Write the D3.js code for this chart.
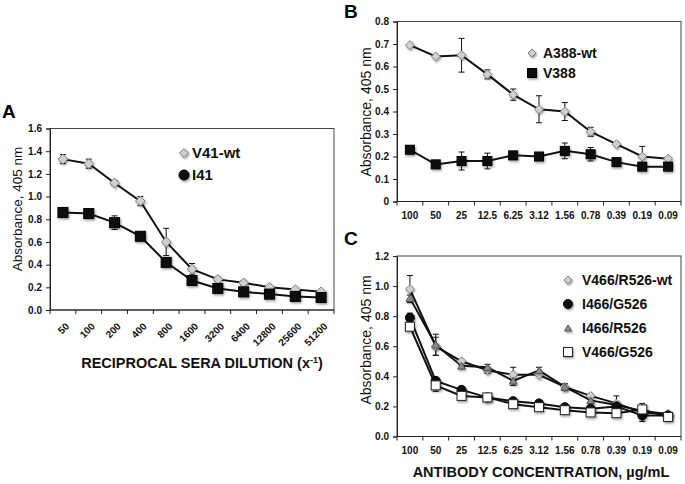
<!DOCTYPE html>
<html>
<head>
    <script src="https://d3js.org/d3.v7.min.js"></script>
    <style>
        body { margin: 0; background: white; }
        text { font-family: "Liberation Sans", Arial, sans-serif; }
        .tick-label { font-size: 10px; font-weight: bold; fill: #111; }
        .ylab { fill: #111; }
        .legend { font-weight: bold; fill: #111; }
        .xtitle { font-size: 14.5px; font-weight: bold; fill: #111; }
        .letter { font-size: 19px; font-weight: bold; fill: #000; }
    </style>
</head>
<body>
<script>
    // ---- data ----
    const dilutionA = ['50', '100', '200', '400', '800', '1600', '3200', '6400', '12800', '25600', '51200'];
    const v41wt = [1.33, 1.29, 1.12, 0.96, 0.60, 0.36, 0.27, 0.24, 0.20, 0.18, 0.16];
    const v41wtErr = [0.04, 0.04, 0.02, 0.04, 0.12, 0.05, 0.02, 0.02, 0.01, 0.01, 0.01];
    const i41 = [0.86, 0.85, 0.77, 0.65, 0.42, 0.26, 0.19, 0.16, 0.14, 0.12, 0.11];
    const i41Err = [0.02, 0.02, 0.06, 0.02, 0.02, 0.02, 0.02, 0.01, 0.01, 0.01, 0.01];
    const yTicksA = [0, 0.2, 0.4, 0.6, 0.8, 1.0, 1.2, 1.4, 1.6];

    const concentration = ['100', '50', '25', '12.5', '6.25', '3.12', '1.56', '0.78', '0.39', '0.19', '0.09'];
    const a388wt = [0.695, 0.645, 0.65, 0.565, 0.475, 0.41, 0.40, 0.31, 0.255, 0.20, 0.19];
    const a388wtErr = [0.005, 0.005, 0.075, 0.02, 0.025, 0.06, 0.04, 0.02, 0.01, 0.045, 0.01];
    const v388 = [0.23, 0.165, 0.18, 0.18, 0.205, 0.20, 0.225, 0.21, 0.175, 0.155, 0.155];
    const v388Err = [0.01, 0.01, 0.04, 0.035, 0.01, 0.01, 0.035, 0.03, 0.01, 0.01, 0.01];
    const yTicksB = [0, 0.1, 0.2, 0.3, 0.4, 0.5, 0.6, 0.7, 0.8];

    const v466r526wt = [0.98, 0.60, 0.50, 0.44, 0.41, 0.41, 0.33, 0.27, 0.22, 0.16, 0.15];
    const v466r526wtErr = [0.09, 0.06, 0.01, 0.02, 0.05, 0.01, 0.02, 0.01, 0.05, 0.06, 0.01];
    const i466g526 = [0.79, 0.37, 0.31, 0.26, 0.235, 0.22, 0.195, 0.185, 0.20, 0.14, 0.14];
    const i466g526Err = [0.03, 0.02, 0.02, 0.01, 0.01, 0.01, 0.01, 0.01, 0.01, 0.01, 0.01];
    const i466r526 = [0.92, 0.61, 0.47, 0.46, 0.37, 0.44, 0.33, 0.24, 0.21, 0.17, 0.15];
    const i466r526Err = [0.02, 0.07, 0.02, 0.02, 0.03, 0.02, 0.02, 0.02, 0.02, 0.02, 0.01];
    const v466g526 = [0.73, 0.34, 0.27, 0.26, 0.215, 0.195, 0.175, 0.16, 0.155, 0.18, 0.13];
    const v466g526Err = [0.02, 0.04, 0.01, 0.01, 0.01, 0.01, 0.01, 0.01, 0.01, 0.01, 0.01];
    const yTicksC = [0, 0.2, 0.4, 0.6, 0.8, 1.0, 1.2];

    const svg = d3.select('body').append('svg')
        .attr('width', 685)
        .attr('height', 484);

    // soft drop shadow like the Excel markers
    svg.append('defs').append('filter')
        .attr('id', 'shadow')
        .attr('x', '-50%').attr('y', '-50%').attr('width', '200%').attr('height', '200%')
        .append('feDropShadow')
        .attr('dx', 1).attr('dy', 1.5).attr('stdDeviation', 1)
        .attr('flood-color', '#000').attr('flood-opacity', 0.4);

    const markerStyle = {
        diamond: { fill: '#d0d0d0', stroke: '#808080' },
        square: { fill: '#111', stroke: '#000' },
        circle: { fill: '#111', stroke: '#000' },
        triangle: { fill: '#8c8c8c', stroke: '#555' },
        opensquare: { fill: '#fff', stroke: '#222' }
    };

    // size = full width of the marker in px
    function drawMarker(g, type, size, x, y) {
        const m = markerStyle[type];
        let el;
        if (type === 'square' || type === 'opensquare') {
            el = g.append('rect')
                .attr('x', x - size / 2).attr('y', y - size / 2)
                .attr('width', size).attr('height', size);
        } else if (type === 'circle') {
            el = g.append('circle').attr('cx', x).attr('cy', y).attr('r', size / 2);
        } else if (type === 'diamond') {
            el = g.append('path')
                .attr('d', d3.symbol().type(d3.symbolDiamond2).size(size * size / 2)())
                .attr('transform', `translate(${x},${y})`);
        } else {
            el = g.append('path')
                .attr('d', d3.symbol().type(d3.symbolTriangle2).size(size * size * 0.43)())
                .attr('transform', `translate(${x},${y + 1})`);
        }
        el.attr('fill', m.fill).attr('stroke', m.stroke).attr('stroke-width', 1)
            .attr('filter', 'url(#shadow)');
    }

    function drawPanel(p) {
        const x = d3.scaleBand().domain(p.categories).range([p.left, p.right]);
        const y = d3.scaleLinear().domain([0, p.yMax]).range([p.bottom, p.top]);
        const g = svg.append('g');

        // frame
        g.append('rect')
            .attr('x', p.left).attr('y', p.top)
            .attr('width', p.right - p.left).attr('height', p.bottom - p.top)
            .attr('fill', 'none').attr('stroke', '#444').attr('stroke-width', 1);

        // y axis
        const yAxis = g.append('g')
            .attr('transform', `translate(${p.left},0)`)
            .call(d3.axisLeft(y).tickValues(p.yTicks).tickFormat(p.yFormat).tickSize(4).tickPadding(4));
        yAxis.select('.domain').attr('stroke', '#222');
        yAxis.selectAll('.tick line').attr('stroke', '#222');
        yAxis.selectAll('.tick text').attr('class', 'tick-label').attr('font-family', null).attr('font-size', null);

        // x axis: ticks between categories
        const edges = p.categories.map(c => x(c)).concat([p.right]);
        g.append('line')
            .attr('x1', p.left).attr('x2', p.right)
            .attr('y1', p.bottom).attr('y2', p.bottom)
            .attr('stroke', '#222');
        g.selectAll('.xtick').data(edges).enter().append('line')
            .attr('x1', d => d).attr('x2', d => d)
            .attr('y1', p.bottom).attr('y2', p.bottom + 4)
            .attr('stroke', '#222');

        const cx = c => x(c) + x.bandwidth() / 2;
        if (p.rotate) {
            g.selectAll('.xl').data(p.categories).enter().append('text')
                .attr('class', 'tick-label')
                .attr('text-anchor', 'end')
                .attr('transform', c => `translate(${cx(c) + 7},${p.bottom + 17}) rotate(-45)`)
                .text(c => c);
        } else {
            g.selectAll('.xl').data(p.categories).enter().append('text')
                .attr('class', 'tick-label')
                .attr('text-anchor', 'middle')
                .attr('x', cx).attr('y', p.bottom + 17)
                .text(c => c);
        }

        // y label
        g.append('text')
            .attr('class', 'ylab')
            .attr('text-anchor', 'middle')
            .style('font-size', p.yLabelFont + 'px')
            .attr('transform', `translate(${p.yLabelX},${p.yLabelY}) rotate(-90)`)
            .text('Absorbance, 405 nm');

        // series (lines first, then error bars and markers)
        const line = d3.line().x((d, i) => cx(p.categories[i])).y(d => y(d));
        p.series.forEach(s => {
            g.append('path')
                .attr('d', line(s.values))
                .attr('fill', 'none').attr('stroke', '#111').attr('stroke-width', 2);
        });
        p.series.forEach(s => {
            s.values.forEach((v, i) => {
                const xp = cx(p.categories[i]);
                const e = s.err[i];
                if (e > 0.012) {
                    g.append('line').attr('x1', xp).attr('x2', xp)
                        .attr('y1', y(v - e)).attr('y2', y(v + e))
                        .attr('stroke', '#111').attr('stroke-width', 1);
                    [v - e, v + e].forEach(t => {
                        g.append('line').attr('x1', xp - 3).attr('x2', xp + 3)
                            .attr('y1', y(t)).attr('y2', y(t))
                            .attr('stroke', '#111').attr('stroke-width', 1);
                    });
                }
            });
        });
        p.series.forEach(s => {
            s.values.forEach((v, i) => drawMarker(g, s.marker, s.size || p.markerSize, cx(p.categories[i]), y(v)));
        });

        // legend
        p.legend.forEach((l, i) => {
            const ly = p.legendY + i * p.legendStep;
            drawMarker(g, l.marker, p.legendMarker, p.legendX, ly);
            g.append('text')
                .attr('class', 'legend')
                .attr('x', p.legendX + p.legendGap).attr('y', ly + 5)
                .style('font-size', p.legendFont + 'px')
                .text(l.name);
        });
    }

    drawPanel({
        categories: dilutionA, yMax: 1.6, yTicks: yTicksA, yFormat: d3.format('.1f'),
        left: 50, right: 334, top: 128.5, bottom: 310, rotate: true, markerSize: 10,
        yLabelX: 22, yLabelY: 209, yLabelFont: 13.5,
        series: [
            { values: v41wt, err: v41wtErr, marker: 'diamond', size: 11 },
            { values: i41, err: i41Err, marker: 'square' }
        ],
        legend: [{ name: 'V41-wt', marker: 'diamond' }, { name: 'I41', marker: 'circle' }],
        legendX: 184, legendY: 153, legendStep: 22, legendMarker: 10, legendGap: 8, legendFont: 15
    });

    drawPanel({
        categories: concentration, yMax: 0.8, yTicks: yTicksB, yFormat: d => d === 0 ? '0' : d3.format('.1f')(d),
        left: 397, right: 681, top: 21.5, bottom: 201.5, rotate: false, markerSize: 9,
        yLabelX: 371, yLabelY: 112, yLabelFont: 14,
        series: [
            { values: a388wt, err: a388wtErr, marker: 'diamond', size: 10 },
            { values: v388, err: v388Err, marker: 'square' }
        ],
        legend: [{ name: 'A388-wt', marker: 'diamond' }, { name: 'V388', marker: 'square' }],
        legendX: 532, legendY: 53, legendStep: 20, legendMarker: 9, legendGap: 11, legendFont: 14
    });

    drawPanel({
        categories: concentration, yMax: 1.2, yTicks: yTicksC, yFormat: d3.format('.1f'),
        left: 397, right: 681, top: 256, bottom: 436.5, rotate: false, markerSize: 9,
        yLabelX: 371, yLabelY: 340, yLabelFont: 14,
        series: [
            { values: v466r526wt, err: v466r526wtErr, marker: 'diamond', size: 10 },
            { values: i466r526, err: i466r526Err, marker: 'triangle', size: 10 },
            { values: i466g526, err: i466g526Err, marker: 'circle' },
            { values: v466g526, err: v466g526Err, marker: 'opensquare' }
        ],
        legend: [
            { name: 'V466/R526-wt', marker: 'diamond' },
            { name: 'I466/G526', marker: 'circle' },
            { name: 'I466/R526', marker: 'triangle' },
            { name: 'V466/G526', marker: 'opensquare' }
        ],
        legendX: 568, legendY: 280, legendStep: 24, legendMarker: 9, legendGap: 14, legendFont: 14
    });

    // panel letters and titles
    svg.append('text').attr('class', 'letter').attr('x', 2).attr('y', 118).text('A');
    svg.append('text').attr('class', 'letter').attr('x', 344).attr('y', 18).text('B');
    svg.append('text').attr('class', 'letter').attr('x', 344).attr('y', 245).text('C');

    const tA = svg.append('text').attr('class', 'xtitle').attr('text-anchor', 'middle')
        .attr('x', 202).attr('y', 368);
    tA.append('tspan').text('RECIPROCAL SERA DILUTION (x');
    tA.append('tspan').attr('dy', -5).style('font-size', '9px').text('-1');
    tA.append('tspan').attr('dy', 5).text(')');

    svg.append('text').attr('class', 'xtitle').attr('text-anchor', 'middle')
        .attr('x', 541).attr('y', 477).text('ANTIBODY CONCENTRATION, \u00b5g/mL');
</script>
</body>
</html>
